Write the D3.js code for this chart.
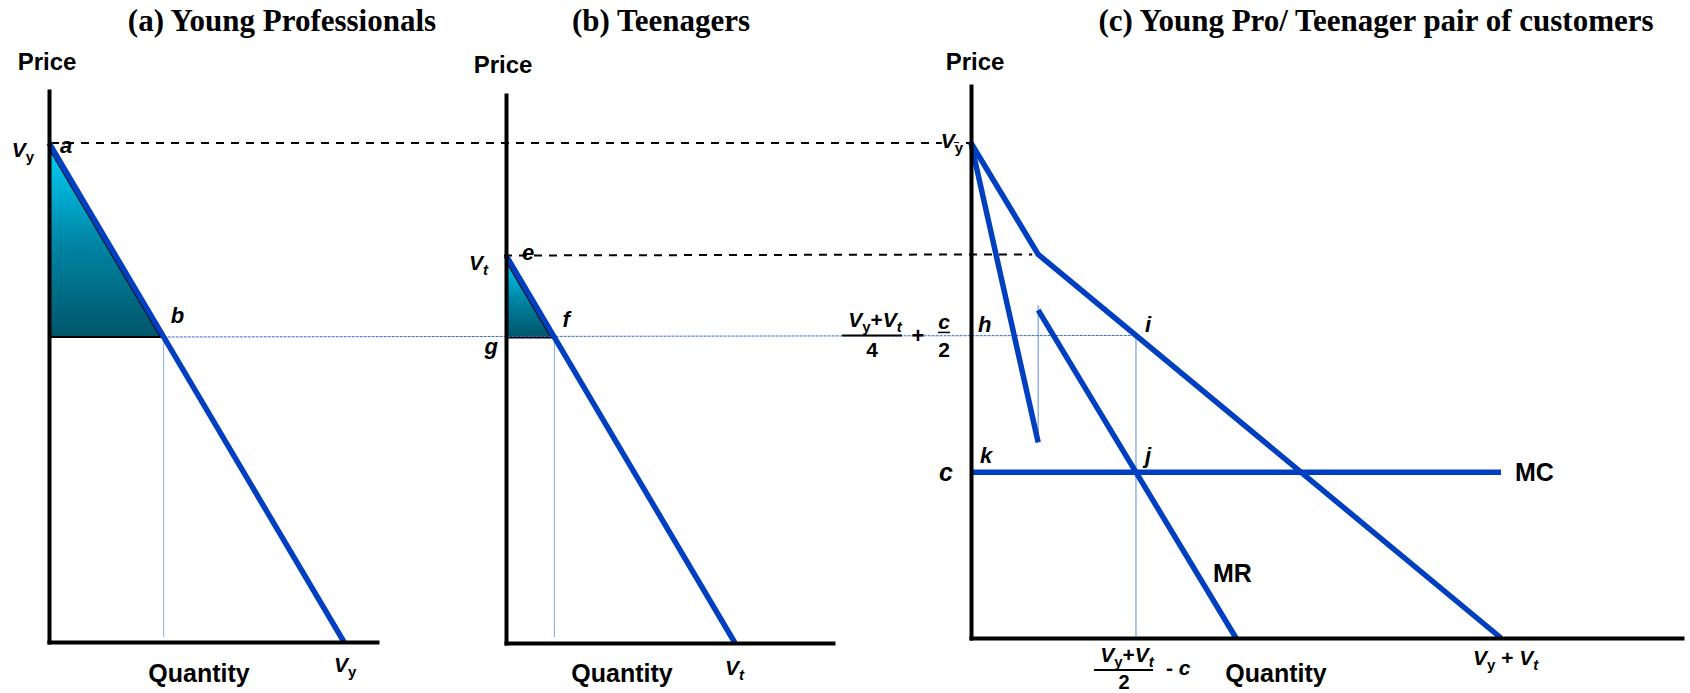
<!DOCTYPE html>
<html>
<head>
<meta charset="utf-8">
<script src="https://cdn.jsdelivr.net/npm/d3@7"></script>
<style>
  html, body { margin: 0; padding: 0; background: #fff; }
  svg { display: block; }
</style>
</head>
<body>
<svg id="chart" width="1690" height="693"></svg>
<script>
// ---------- values (price / quantity units) ----------
const reservationPrices = [10, 7.75];          // V_y (young professional), V_t (teenager)
const marginalCosts = [3.35];                  // c
const demandYoung = [[0, 10], [10, 0]];        // panel (a) demand
const demandTeen = [[0, 7.75], [7.75, 0]];     // panel (b) demand
const demandPair = [[0, 10], [2.25, 7.75], [17.75, 0]];   // panel (c) kinked demand
const mrUpper = [[0, 10], [2.25, 3.95]];       // panel (c) MR, upper branch
const mrLower = [[2.25, 6.625], [8.875, 0]];   // panel (c) MR, lower branch
const mcLine = [[0, 3.35], [17.75, 3.35]];     // panel (c) marginal cost
const panelTitles = ["(a) Young Professionals", "(b) Teenagers", "(c) Young Pro/ Teenager pair of customers"];

const [Vy, Vt] = reservationPrices;
const c = marginalCosts[0];
const pStar = (Vy + Vt) / 4 + c / 2;   // price on the h–i line
const qStar = (Vy + Vt) / 2 - c;       // quantity at i / j
const qYoung = Vy - pStar;             // point b
const qTeen = Vt - pStar;              // point f

// ---------- layout ----------
const SANS = "'Liberation Sans', Arial, Helvetica, sans-serif";
const SERIF = "'Liberation Serif', 'Times New Roman', serif";
const BLUE = "#0040c0";
const GUIDE = "#3a6ad8";

const layout = {
  a: { left: 49,  right: 377,  top: 91, bottom: 642, vyY: 143, qPx: 29.5 },
  b: { left: 506, right: 833,  top: 95, bottom: 643, vyY: 143, qPx: 29.55 },
  c: { left: 971, right: 1682, top: 86, bottom: 638, vyY: 143, qPx: 29.86 }
};

function makeScales(cfg) {
  const x = d3.scaleLinear()
    .domain([0, (cfg.right - cfg.left) / cfg.qPx])
    .range([cfg.left, cfg.right]);
  const y = d3.scaleLinear().domain([0, Vy]).range([cfg.bottom, cfg.vyY]);
  y.domain([0, y.invert(cfg.top)]).range([cfg.bottom, cfg.top]);
  return { x, y };
}
const A = makeScales(layout.a), B = makeScales(layout.b), C = makeScales(layout.c);

const svg = d3.select("#chart");

// surplus gradient
const grad = svg.append("defs").append("linearGradient")
  .attr("id", "surplus").attr("x1", 0).attr("y1", 0).attr("x2", 0).attr("y2", 1);
grad.append("stop").attr("offset", "0%").attr("stop-color", "#00d0f8");
grad.append("stop").attr("offset", "50%").attr("stop-color", "#0085a5");
grad.append("stop").attr("offset", "100%").attr("stop-color", "#00566b");

// ---------- titles ----------
const titleX = [282, 661, 1376];
panelTitles.forEach((t, i) => {
  svg.append("text").attr("x", titleX[i]).attr("y", 31)
    .attr("text-anchor", "middle")
    .attr("font-family", SERIF).attr("font-weight", "bold").attr("font-size", 31)
    .text(t);
});

// ---------- consumer-surplus triangles ----------
function surplus(S, vTop, qAt) {
  const x0 = S.x(0), yTop = S.y(vTop), yP = S.y(pStar), xB = S.x(qAt);
  const inset = 3;
  const drop = inset * (yP - yTop) / (xB - x0);
  const pts = [[x0, yTop + drop], [x0, yP], [xB - inset, yP]];
  svg.append("path")
    .attr("d", d3.line()(pts) + "Z")
    .attr("fill", "url(#surplus)")
    .attr("stroke", "#000").attr("stroke-width", 2)
    .attr("stroke-linejoin", "miter");
}
surplus(A, Vy, qYoung);
surplus(B, Vt, qTeen);

// ---------- thin guide lines ----------
const guides = svg.append("g").attr("stroke", GUIDE).attr("stroke-width", 1).attr("fill", "none");
// price line b – f – h – i
guides.append("line")
  .attr("x1", A.x(qYoung)).attr("y1", A.y(pStar))
  .attr("x2", C.x(qStar)).attr("y2", C.y(pStar))
  .attr("stroke-dasharray", "3,1");
// quantity drops
guides.append("line").attr("x1", A.x(qYoung)).attr("x2", A.x(qYoung))
  .attr("y1", A.y(pStar)).attr("y2", A.y(0) - 5).attr("opacity", 0.6);
guides.append("line").attr("x1", B.x(qTeen)).attr("x2", B.x(qTeen))
  .attr("y1", B.y(pStar)).attr("y2", B.y(0) - 6).attr("opacity", 0.6);
guides.append("line").attr("x1", C.x(qStar)).attr("x2", C.x(qStar))
  .attr("y1", C.y(pStar)).attr("y2", C.y(0) - 1).attr("opacity", 0.8);
// MR discontinuity
guides.append("line").attr("x1", C.x(mrUpper[1][0])).attr("x2", C.x(mrUpper[1][0]))
  .attr("y1", C.y(mrLower[0][1]) - 5).attr("y2", C.y(mrUpper[1][1])).attr("opacity", 0.8);

// ---------- dashed reservation-price lines ----------
const dashed = svg.append("g").attr("stroke", "#000").attr("stroke-width", 2)
  .attr("stroke-dasharray", "8,7").attr("fill", "none");
dashed.append("line").attr("x1", A.x(0) + 2).attr("y1", A.y(Vy))
  .attr("x2", C.x(0)).attr("y2", C.y(Vy));
dashed.append("line").attr("x1", B.x(0) - 2).attr("y1", B.y(Vt))
  .attr("x2", C.x(demandPair[1][0]) - 6).attr("y2", C.y(Vt));

// ---------- curves ----------
function curve(S, data) {
  svg.append("path")
    .datum(data)
    .attr("d", d3.line().x(d => S.x(d[0])).y(d => S.y(d[1])))
    .attr("fill", "none").attr("stroke", BLUE).attr("stroke-width", 5.5)
    .attr("stroke-linejoin", "miter");
}
curve(A, demandYoung);
curve(B, demandTeen);
curve(C, demandPair);
curve(C, mrUpper);
curve(C, mrLower);
curve(C, mcLine);

// ---------- axes ----------
function axes(S) {
  const gy = svg.append("g").attr("transform", `translate(${S.x(0)},0)`)
    .call(d3.axisLeft(S.y).tickValues([]).tickSizeOuter(0));
  const gx = svg.append("g").attr("transform", `translate(0,${S.y(0)})`)
    .call(d3.axisBottom(S.x).tickValues([]).tickSizeOuter(0));
  [gy, gx].forEach(g => g.select(".domain")
    .attr("stroke", "#000").attr("stroke-width", 4).attr("stroke-linecap", "square"));
}
axes(A); axes(B); axes(C);

// ---------- text helpers ----------
// runs: [text, style] with style "" normal, "i" italic, "s" subscript, "si" italic subscript
function rich(x, y, runs, opt = {}) {
  const size = opt.size || 21, subSize = opt.subSize || 15, shift = opt.shift || 5;
  const t = svg.append("text").attr("x", x).attr("y", y)
    .attr("text-anchor", opt.anchor || "start")
    .attr("font-family", SANS).attr("font-weight", "bold").attr("font-size", size);
  if (opt.halo) t.attr("stroke", "#fff").attr("stroke-width", 4).attr("paint-order", "stroke");
  let cur = 0;
  runs.forEach(([txt, st]) => {
    const ts = t.append("tspan").text(txt);
    if (st.includes("i")) ts.attr("font-style", "italic");
    const target = st.includes("s") ? shift : 0;
    if (target !== cur) { ts.attr("dy", target - cur); cur = target; }
    if (st.includes("s")) ts.attr("font-size", subSize);
  });
  return t;
}
function word(x, y, txt, size, anchor = "start", italic = false) {
  return svg.append("text").attr("x", x).attr("y", y).attr("text-anchor", anchor)
    .attr("font-family", SANS).attr("font-weight", "bold").attr("font-size", size)
    .attr("font-style", italic ? "italic" : "normal").text(txt);
}
function bar(x1, x2, y, w = 2) {
  svg.append("line").attr("x1", x1).attr("x2", x2).attr("y1", y).attr("y2", y)
    .attr("stroke", "#000").attr("stroke-width", w);
}

const Vy_ = [["V", "i"], ["y", "s"]];
const Vt_ = [["V", "i"], ["t", "si"]];

// ---------- panel (a) labels ----------
word(47, 70, "Price", 24, "middle");
word(A.x(0) + 150, 682, "Quantity", 25, "middle");
rich(A.x(0) - 15, A.y(Vy) + 14, Vy_, { anchor: "end" });
word(A.x(0) + 11, A.y(Vy) + 10, "a", 22, "start", true);
word(A.x(qYoung) + 7, A.y(pStar) - 14, "b", 22, "start", true);
rich(A.x(Vy) - 10, A.y(0) + 30, Vy_);

// ---------- panel (b) labels ----------
word(503, 73, "Price", 24, "middle");
word(B.x(0) + 116, 682, "Quantity", 25, "middle");
rich(B.x(0) - 18, B.y(Vt) + 14, Vt_, { anchor: "end" });
word(B.x(0) + 16, B.y(Vt) + 4, "e", 22, "start", true);
word(B.x(qTeen) + 8, B.y(pStar) - 10, "f", 22, "start", true);
word(B.x(0) - 8, B.y(pStar) + 17, "g", 22, "end", true);
rich(B.x(Vt) - 10, B.y(0) + 32, Vt_);

// ---------- panel (c) labels ----------
word(975, 70, "Price", 24, "middle");
word(C.x(0) + 305, 682, "Quantity", 25, "middle");
rich(C.x(0) - 8, C.y(Vy) + 5, Vy_, { anchor: "end", halo: true });
word(C.x(0) + 7, C.y(pStar) - 3, "h", 22, "start", true);
word(C.x(qStar) + 9, C.y(pStar) - 3, "i", 22, "start", true);
word(C.x(0) + 9, C.y(c) - 9, "k", 22, "start", true);
word(C.x(qStar) + 9, C.y(c) - 9, "j", 22, "start", true);
word(C.x(0) - 18, C.y(c) + 9, "c", 25, "end", true);
word(C.x(mcLine[1][0]) + 14, C.y(c) + 9, "MC", 25);
word(1213, 582, "MR", 25);
rich(C.x(demandPair[2][0]) - 28, C.y(0) + 27, [["V", "i"], ["y", "s"], [" + ", ""], ["V", "i"], ["t", "si"]]);

// price level (V_y+V_t)/4 + c/2
{
  const yP = C.y(pStar), x0 = C.x(0);
  rich(x0 - 96, yP - 8, [["V", "i"], ["y", "s"], ["+", ""], ["V", "i"], ["t", "si"]], { anchor: "middle" });
  bar(x0 - 129, x0 - 69, yP);
  word(x0 - 99, yP + 22, "4", 21, "middle");
  word(x0 - 53, yP + 8, "+", 22, "middle");
  word(x0 - 27, yP - 6, "c", 21, "middle", true);
  bar(x0 - 33, x0 - 21, yP - 3, 1.5);
  word(x0 - 27, yP + 22, "2", 21, "middle");
}

// quantity level (V_y+V_t)/2 - c
{
  const xq = C.x(qStar), y0 = C.y(0);
  rich(xq - 9, y0 + 24, [["V", "i"], ["y", "s"], ["+", ""], ["V", "i"], ["t", "si"]], { anchor: "middle" });
  bar(xq - 42, xq + 17, y0 + 32);
  word(xq - 12, y0 + 51, "2", 20, "middle");
  rich(xq + 30, y0 + 37, [["- ", ""], ["c", "i"]]);
}
</script>
</body>
</html>
